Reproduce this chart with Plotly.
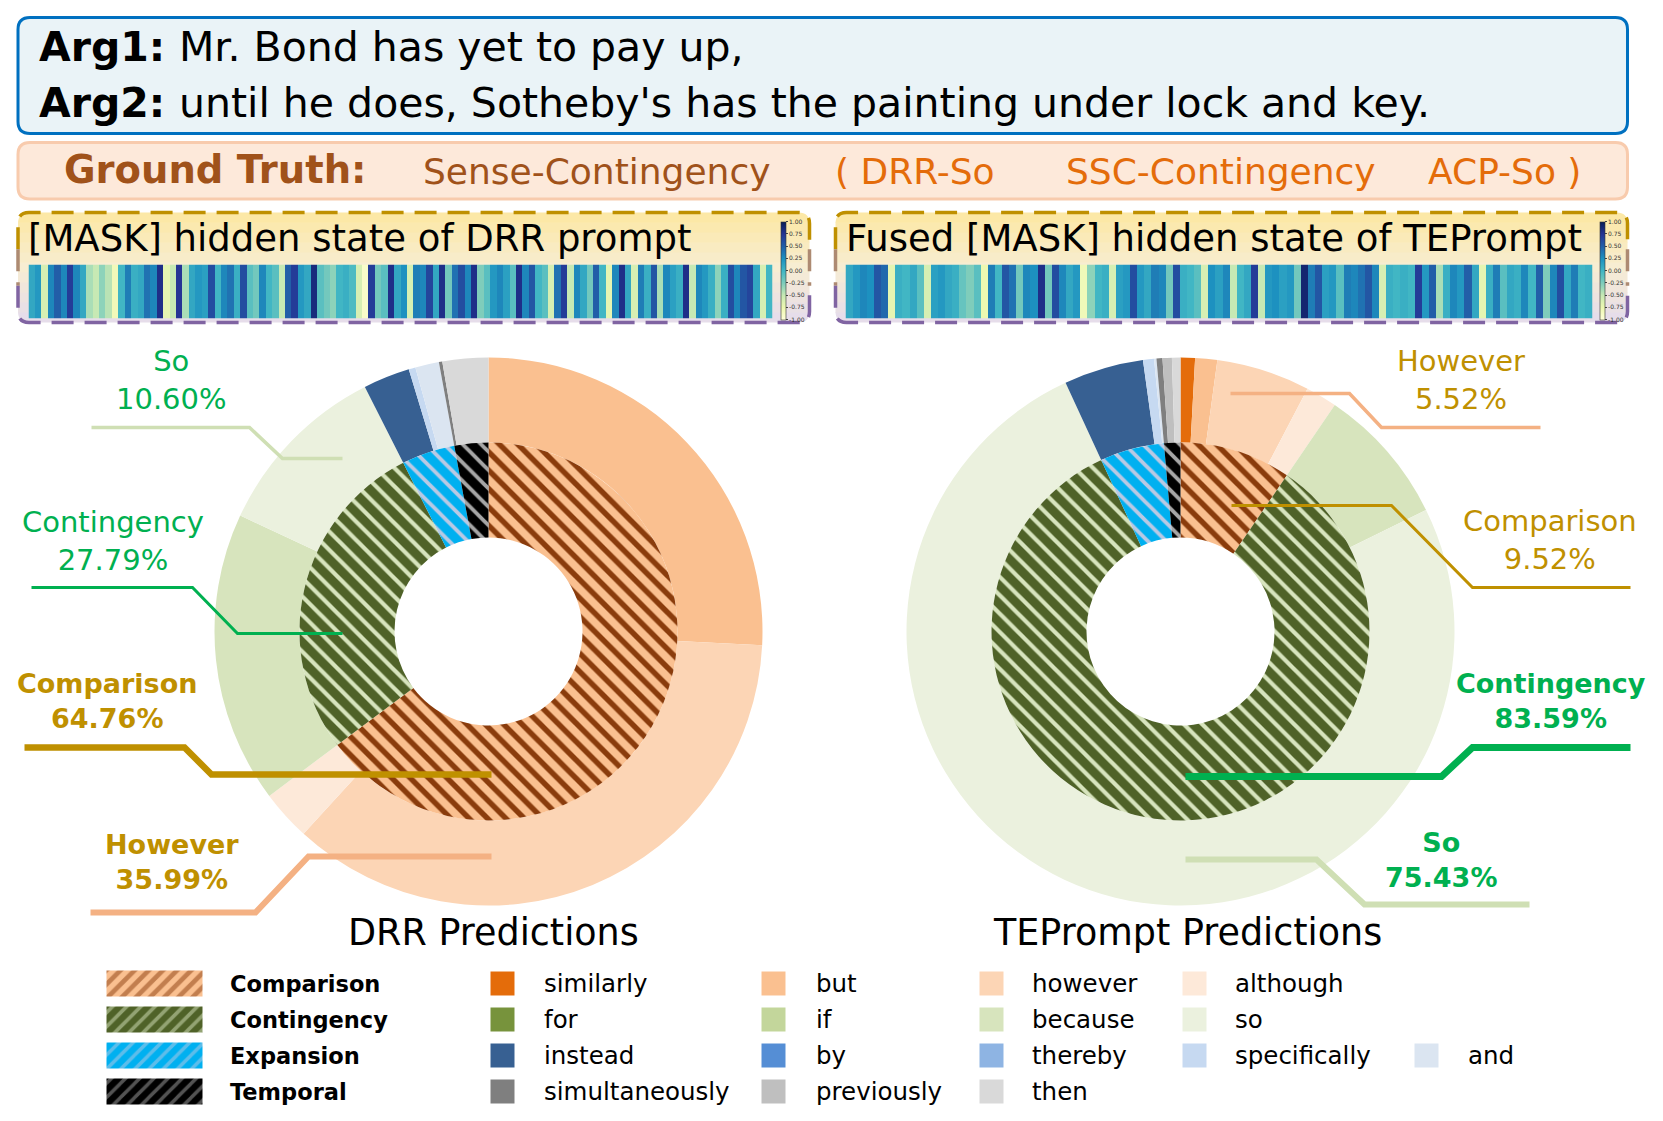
import plotly.graph_objects as go
import plotly.colors as pc

W, H = 1663, 1121
OFF = 8.5  # shift between measured pixel positions and the page
FONT = "DejaVu Sans"

# ---- data -------------------------------------------------------------
classes = ["Comparison", "Contingency", "Expansion", "Temporal"]
connectives = ["similarly", "but", "however", "although",
               "for", "if", "because", "so",
               "instead", "by", "thereby", "specifically", "and",
               "simultaneously", "previously", "then"]
conn_class = [0, 0, 0, 0, 1, 1, 1, 1, 2, 2, 2, 2, 2, 3, 3, 3]

drr_class_pct = [64.76, 27.79, 4.55, 2.90]
drr_conn_pct = [0.00, 25.80, 35.99, 2.97,
                0.00, 0.00, 17.19, 10.60,
                2.75, 0.00, 0.00, 0.40, 1.40,
                0.20, 0.00, 2.70]

te_class_pct = [9.52, 83.59, 5.49, 1.40]
te_conn_pct = [0.85, 1.30, 5.52, 1.85,
               0.00, 0.00, 8.16, 75.43,
               4.70, 0.00, 0.00, 0.65, 0.14,
               0.35, 0.55, 0.50]

# [MASK] hidden-state strips (left to right)
drr_hidden = [0.1, 0.2, -0.6, 0.3, 0.5, 0.3, 0.7, 0.3, 0.1, -0.4, -0.5, -0.3, -0.45,
              -0.8, 0.0, 0.35, 0.05, 0.1, 0.4, 0.3, 0.8, -0.7, -0.5, 0.75, -0.4, 0.1,
              0.2, 0.15, 0.6, 0.0, 0.3, 0.4, 0.05, 0.6, -0.1, -0.2, 0.3, 0.0, -0.1,
              -0.5, 0.5, 0.7, 0.2, 0.1, 0.85, -0.1, -0.2, -0.3, 0.0, 0.05, -0.05, -0.6,
              -0.9, 0.7, -0.2, -0.1, 0.8, 0.1, 0.25, -0.6, 0.35, 0.3, 0.65, 0.1, 0.8,
              -0.2, 0.4, 0.6, 0.3, 0.8, -0.25, -0.1, 0.2, 0.3, 0.15,
              -0.1, 0.8, 0.3, 0.55, 0.0, -0.1, -0.6, 0.4, 0.7, -0.5, 0.3, 0.1, -0.2,
              0.5, 0.0, -0.7, 0.3, 0.8, 0.1, -0.6, 0.35, 0.05, 0.55, -0.4, 0.3, 0.15,
              0.05, 0.8, -0.5, 0.3, 0.2, 0.05, -0.3, 0.05, 0.6, 0.3, 0.55, 0.65, 0.1,
              -0.6, 0.0]
te_hidden = [0.1, 0.2, 0.3, 0.25, 0.55, 0.45, -0.7, 0.05, 0.0, 0.1, -0.1, -0.6, 0.15,
             0.2, 0.1, 0.05, -0.15, -0.25, -0.1, -0.75, 0.35, 0.0, 0.55, 0.4, -0.2, 0.3,
             0.25, 0.8, -0.2, 0.6, 0.3, 0.1, 0.2, -0.8, -0.3, 0.0, 0.05, -0.6, 0.15,
             0.2, 0.6, 0.2, 0.1, 0.35, 0.3, -0.2, 0.6, 0.05, 0.0, -0.1, -0.6, 0.25,
             0.15, 0.3, -0.5, 0.0, 0.1, 0.7, -0.5, 0.2, 0.25, 0.15, 0.2, -0.2, 0.9,
             0.35, 0.55, 0.15, 0.2, -0.1, 0.35, 0.3, 0.4, 0.55, 0.3, -0.6, 0.05, 0.0,
             0.05, 0.0, 0.7, 0.2, 0.5, -0.4, 0.05, 0.3, 0.2, 0.5, 0.1, -0.7, 0.05,
             0.35, -0.1, 0.1, 0.05, 0.3, 0.0, 0.5, -0.25, 0.3, 0.6, 0.1, 0.35, 0.0, 0.05]
cbar_ticks = [1.0, 0.75, 0.5, 0.25, 0.0, -0.25, -0.5, -0.75, -1.0]

# ---- styles -----------------------------------------------------------
class_bg = ["#fac090", "#4f6228", "#00b0f0", "#000000"]
class_fg = ["#8a3c0c", "#d7e4bd", "#b9c9e4", "#a6a6a6"]
class_solid = [0.42, 0.32, 0.3, 0.3]
conn_colors = ["#e46c0a", "#fac090", "#fcd5b5", "#fde9d9",
               "#77933c", "#c3d69b", "#d7e4bd", "#ebf1de",
               "#376092", "#558ed5", "#8eb4e3", "#c6d9f1", "#dbe5f1",
               "#7f7f7f", "#bfbfbf", "#d9d9d9"]
GREEN, GOLD, PEACH, SAGE = "#00b050", "#bf9000", "#f4b183", "#cfdfb4"

R_OUT, R_MID, R_HOLE = 274, 189, 94
CY = 632
DRR_CX, TE_CX = 489, 1181


def px(x):
    return (x - OFF) / W


def py(y):
    return 1 - (y - OFF) / H


def dom(cx, cy, r):
    return dict(x=[px(cx - r), px(cx + r)], y=[py(cy + r), py(cy - r)])


def rrect(x0, y0, x1, y1, r, top=True, bottom=True):
    rt = r if top else 0
    rb = r if bottom else 0
    return (f"M{x0 + rt},{y0} L{x1 - rt},{y0} Q{x1},{y0} {x1},{y0 + rt} "
            f"L{x1},{y1 - rb} Q{x1},{y1} {x1 - rb},{y1} L{x0 + rb},{y1} "
            f"Q{x0},{y1} {x0},{y1 - rb} L{x0},{y0 + rt} Q{x0},{y0} {x0 + rt},{y0} Z")


fig = go.Figure()

# ---- donuts -----------------------------------------------------------
for cx, conn_vals, class_vals in [(DRR_CX, drr_conn_pct, drr_class_pct),
                                  (TE_CX, te_conn_pct, te_class_pct)]:
    fig.add_trace(go.Pie(
        values=conn_vals, labels=connectives, sort=False, direction="clockwise",
        rotation=0, hole=R_MID / R_OUT, domain=dom(cx, CY, R_OUT),
        marker=dict(colors=conn_colors, line=dict(width=0)),
        textinfo="none", hoverinfo="skip", showlegend=False))
    fig.add_trace(go.Pie(
        values=class_vals, labels=classes, sort=False, direction="clockwise",
        rotation=0, hole=R_HOLE / R_MID, domain=dom(cx, CY, R_MID),
        marker=dict(colors=class_bg, line=dict(width=0),
                    pattern=dict(shape=["\\"] * 4, fgcolor=class_fg, bgcolor=class_bg,
                                 solidity=class_solid, size=13)),
        textinfo="none", hoverinfo="skip", showlegend=False))

# ---- hidden-state strips ---------------------------------------------
ylgnbu = pc.make_colorscale(pc.sequential.YlGnBu)
strips = [(drr_hidden, 29, 773, 781, "2"), (te_hidden, 846, 1593, 1600, "3")]
for vals, x0, x1, cbx, k in strips:
    fig.add_trace(go.Heatmap(
        z=[vals], colorscale=ylgnbu, zmin=-1, zmax=1, xaxis="x" + k, yaxis="y" + k,
        hoverinfo="skip", xgap=0, ygap=0,
        colorbar=dict(x=px(cbx), xanchor="left", xpad=0, ypad=0, thickness=5,
                      len=98 / H, lenmode="fraction", y=py(271), yanchor="middle",
                      outlinewidth=0.6, outlinecolor="#333", ticks="outside", ticklen=2,
                      tickvals=cbar_ticks, ticktext=[f"{t:.2f}" for t in cbar_ticks],
                      tickfont=dict(size=6, family=FONT, color="#333"))))
    fig.layout["xaxis" + k] = dict(domain=[px(x0), px(x1)], range=[-0.5, len(vals) - 0.5],
                                   visible=False, anchor="y" + k, fixedrange=True)
    fig.layout["yaxis" + k] = dict(domain=[py(319), py(265)], visible=False,
                                   anchor="x" + k, fixedrange=True)

# ---- legend -----------------------------------------------------------
leg_rows = [984, 1020, 1056, 1092]
sq_x = [503, 774, 992, 1195, 1427]
txt_x = [542, 814, 1030, 1233, 1466]
annotations = []


def txt(x, y, s, size, color="black", bold=False, xanchor="center"):
    annotations.append(dict(x=x, y=y, xref="x", yref="y", text=f"<b>{s}</b>" if bold else s,
                            showarrow=False, xanchor=xanchor, yanchor="middle",
                            font=dict(family=FONT, size=size, color=color)))


for i, name in enumerate(classes):
    y = leg_rows[i]
    fig.add_trace(go.Scatter(
        x=[107, 203, 203, 107, 107], y=[y - 13, y - 13, y + 13, y + 13, y - 13],
        xaxis="x", yaxis="y", mode="lines", line=dict(width=0), fill="toself",
        fillcolor=class_bg[i],
        fillpattern=dict(shape="/", fgcolor=class_fg[i], bgcolor=class_bg[i], size=10,
                         solidity=class_solid[i] + 0.05),
        hoverinfo="skip", showlegend=False))
    txt(228, y, name, 22.5, bold=True, xanchor="left")
    members = [j for j, c in enumerate(conn_class) if c == i]
    fig.add_trace(go.Scatter(
        x=sq_x[:len(members)], y=[y] * len(members), xaxis="x", yaxis="y", mode="markers",
        marker=dict(symbol="square", size=24, color=[conn_colors[j] for j in members],
                    line=dict(width=0)),
        hoverinfo="skip", showlegend=False))
    for col, j in enumerate(members):
        txt(txt_x[col], y, connectives[j], 24.5, xanchor="left")

# ---- boxes ------------------------------------------------------------
shapes = []


def path(d, fill=None, color=None, width=0, dash=None, layer="below"):
    shp = dict(type="path", path=d, xref="x", yref="y", layer=layer,
               line=dict(width=width, color=color or "rgba(0,0,0,0)"))
    if dash:
        shp["line"]["dash"] = dash
    if fill:
        shp["fillcolor"] = fill
    shapes.append(shp)


path(rrect(18.5, 18, 1628, 134, 12), fill="#eaf3f7", color="#0070c0", width=3)
path(rrect(18.5, 143, 1628, 199.5, 12), fill="#fde9da", color="#f8cbad", width=3)

top_c, mid_c, bot_c = (253, 231, 162), (247, 237, 210), (228, 219, 236)
nb = 11
for bx0, bx1 in [(18.5, 810), (836, 1628)]:
    y0, y1 = 213, 323
    hh = (y1 - y0) / nb
    for i in range(nb):
        t = (i + 0.5) / nb
        a, b, u = (top_c, mid_c, t * 2) if t < 0.5 else (mid_c, bot_c, t * 2 - 1)
        col = "rgb(%d,%d,%d)" % tuple(round(a[c] + (b[c] - a[c]) * u) for c in range(3))
        ya, yb = y0 + i * hh, min(y0 + (i + 1) * hh + 0.6, y1)
        path(rrect(bx0, ya, bx1, yb, 11, top=(i == 0), bottom=(i == nb - 1)), fill=col)
    r = 11
    h3 = (y1 - y0) / 3
    path(f"M{bx0},{y0 + h3} L{bx0},{y0 + r} Q{bx0},{y0} {bx0 + r},{y0} L{bx1 - r},{y0} "
         f"Q{bx1},{y0} {bx1},{y0 + r} L{bx1},{y0 + h3}",
         color="#bf9000", width=3.5, dash="22px,11px", layer="above")
    for xx in (bx0, bx1):
        path(f"M{xx},{y0 + h3} L{xx},{y0 + 2 * h3}", color="#ad8a72", width=3.5,
             dash="22px,11px", layer="above")
    path(f"M{bx0},{y0 + 2 * h3} L{bx0},{y1 - r} Q{bx0},{y1} {bx0 + r},{y1} L{bx1 - r},{y1} "
         f"Q{bx1},{y1} {bx1},{y1 - r} L{bx1},{y0 + 2 * h3}",
         color="#8064a2", width=3.5, dash="22px,11px", layer="above")

# ---- leader lines -----------------------------------------------------
leaders = [
    ([(92, 428), (250, 428), (283, 459), (343, 459)], SAGE, 3.5),
    ([(32, 588), (193, 588), (238, 634), (343, 634)], GREEN, 3),
    ([(25, 748), (185, 748), (212, 775), (492, 775)], GOLD, 6.5),
    ([(91, 913), (256, 913), (309, 857), (492, 857)], PEACH, 6),
    ([(1231, 394), (1350, 394), (1382, 428), (1541, 428)], PEACH, 3.5),
    ([(1232, 506), (1392, 506), (1473, 588), (1631, 588)], GOLD, 3),
    ([(1186, 777), (1442, 777), (1473, 748), (1631, 748)], GREEN, 7),
    ([(1186, 860), (1317, 860), (1365, 905), (1530, 905)], SAGE, 6),
]
for pts, col, wd in leaders:
    d = "M" + " L".join(f"{x},{y}" for x, y in pts)
    path(d, color=col, width=wd, layer="above")

# ---- texts ------------------------------------------------------------
txt(37, 47, "Arg1:", 41, bold=True, xanchor="left")
txt(37, 103, "Arg2:", 41, bold=True, xanchor="left")
txt(177, 47, "Mr. Bond has yet to pay up,", 41, xanchor="left")
txt(177, 103, "until he does, Sotheby's has the painting under lock and key.", 41,
    xanchor="left")

BROWN, ORANGE = "#a0521a", "#e46c0a"
txt(62, 170, "Ground Truth:", 38.5, color=BROWN, bold=True, xanchor="left")
txt(421, 172, "Sense-Contingency", 36, color=BROWN, xanchor="left")
txt(833, 172, "( DRR-So", 36, color=ORANGE, xanchor="left")
txt(1064, 172, "SSC-Contingency", 36, color=ORANGE, xanchor="left")
txt(1583, 172, "ACP-So )", 36, color=ORANGE, xanchor="right")

txt(26, 239, "[MASK] hidden state of DRR prompt", 37, xanchor="left")
txt(844, 239, "Fused [MASK] hidden state of TEPrompt", 37, xanchor="left")

txt(494, 933, "DRR Predictions", 36.5)
txt(1188, 933, "TEPrompt Predictions", 36.5)

ci = {c: i for i, c in enumerate(classes)}
cj = {c: j for j, c in enumerate(connectives)}
labels = [
    (172, 380, "So", drr_conn_pct[cj["so"]], GREEN, False),
    (113, 541, "Contingency", drr_class_pct[ci["Contingency"]], GREEN, False),
    (107, 701, "Comparison", drr_class_pct[ci["Comparison"]], GOLD, True),
    (172, 862, "However", drr_conn_pct[cj["however"]], GOLD, True),
    (1461, 380, "However", te_conn_pct[cj["however"]], GOLD, False),
    (1550, 540, "Comparison", te_class_pct[ci["Comparison"]], GOLD, False),
    (1551, 701, "Contingency", te_class_pct[ci["Contingency"]], GREEN, True),
    (1441, 860, "So", te_conn_pct[cj["so"]], GREEN, True),
]
for x, y, name, pct, col, bold in labels:
    txt(x, y, f"{name}<br>{pct:.2f}%", 27 if bold else 29, color=col, bold=bold)

fig.update_layout(
    width=W, height=H, margin=dict(l=0, r=0, t=0, b=0),
    paper_bgcolor="white", plot_bgcolor="rgba(0,0,0,0)",
    xaxis=dict(domain=[0, 1], range=[OFF, W + OFF], visible=False, fixedrange=True),
    yaxis=dict(domain=[0, 1], range=[H + OFF, OFF], visible=False, fixedrange=True),
    shapes=shapes, annotations=annotations, showlegend=False,
    font=dict(family=FONT),
)

fig.write_html("out.html")
